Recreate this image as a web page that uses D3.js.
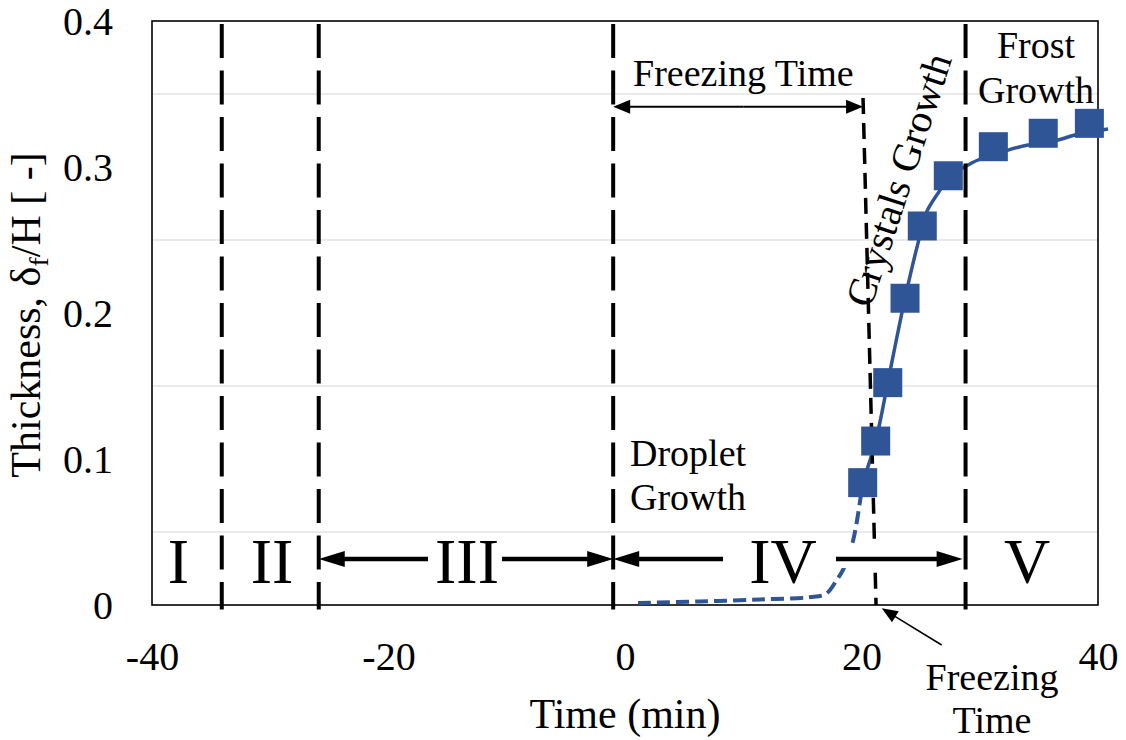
<!DOCTYPE html>
<html>
<head>
<meta charset="utf-8">
<script src="https://cdn.jsdelivr.net/npm/d3@7"></script>
<style>
  body { margin: 0; background: #fff; }
  text { font-family: "Liberation Serif", "Times New Roman", serif; fill: #000; }
</style>
</head>
<body>
<svg id="chart" width="1126" height="740"></svg>
<script>
// axis ticks
const xTicks = [-40, -20, 0, 20, 40];
const yTicks = [0, 0.1, 0.2, 0.3, 0.4];
const gridY = [0.05, 0.15, 0.25, 0.35];

// measured thickness (squares)
const measT = [20.1, 21.2, 22.22, 23.68, 25.14, 27.34, 31.15, 35.37, 39.27];
const measY = [0.0838, 0.1123, 0.1523, 0.2101, 0.2596, 0.294, 0.3139, 0.3231, 0.3299];

// fitted curve after freezing (solid)
const fitT = [20.1, 21.2, 22.22, 22.83, 23.68, 24.78, 25.51, 26.64, 27.34, 28.5, 29.85, 32.39, 34.08, 36.62, 38.05, 40.85];
const fitY = [0.0838, 0.1123, 0.1523, 0.1769, 0.2101, 0.2479, 0.2692, 0.2842, 0.2938, 0.2991, 0.3048, 0.3116, 0.3151, 0.3185, 0.3219, 0.326];

// droplet growth trend (dashed)
const dropT = [1.1, 6.3, 11.4, 15.6, 17.0, 17.9, 18.5, 19.3, 20.1];
const dropY = [0.0014, 0.0024, 0.0038, 0.0053, 0.0077, 0.0171, 0.0251, 0.0445, 0.0838];

// stage boundaries and labels
const phaseBounds = [-34.1, -25.9, -1.0, 28.8];
const phaseLabels = ["I", "II", "III", "IV", "V"];
const phaseLabelT = [-37.76, -29.85, -13.36, 13.36, 34.0];

// freezing-time marker line (top t, bottom t, top y)
const freezeLine = [20.13, 21.23, 0.3473];

const svg = d3.select("#chart");
const x = d3.scaleLinear().domain([-40, 40]).range([152, 1098]);
const y = d3.scaleLinear().domain([0, 0.4]).range([605, 21]);
const blue = "#2F5597";

// gridlines
svg.append("g").selectAll("line")
    .data(gridY)
    .join("line")
    .attr("x1", x(-40)).attr("x2", x(40))
    .attr("y1", d => y(d)).attr("y2", d => y(d))
    .attr("stroke", "#e3e3e3")
    .attr("stroke-width", 1.5);

// axes
const xAxis = svg.append("g")
    .attr("transform", `translate(0,${y(0)})`)
    .call(d3.axisBottom(x).tickValues(xTicks).tickSize(0).tickPadding(37).tickFormat(d => String(d)));
xAxis.select(".domain").remove();
xAxis.selectAll("text").style("font-size", "40px").style("font-family", "'Liberation Serif', serif");

const yAxis = svg.append("g")
    .attr("transform", `translate(${x(-40)},0)`)
    .call(d3.axisLeft(y).tickValues(yTicks).tickSize(0).tickPadding(39)
        .tickFormat(d => d === 0 ? "0" : d3.format(".1f")(d)));
yAxis.select(".domain").remove();
yAxis.selectAll("text").style("font-size", "40px").style("font-family", "'Liberation Serif', serif")
    .attr("dy", "0.34em");

// plot border
svg.append("rect")
    .attr("x", x(-40)).attr("y", y(0.4))
    .attr("width", x(40) - x(-40)).attr("height", y(0) - y(0.4))
    .attr("fill", "none")
    .attr("stroke", "#000")
    .attr("stroke-width", 1.6);

const line = d3.line()
    .x(d => x(d[0]))
    .y(d => y(d[1]))
    .curve(d3.curveCatmullRom.alpha(0.5));

// dashed droplet trend
svg.append("path")
    .datum(dropT.map((t, i) => [t, dropY[i]]))
    .attr("d", line)
    .attr("fill", "none")
    .attr("stroke", blue)
    .attr("stroke-width", 4)
    .attr("stroke-dasharray", "13,6");

// solid fit
svg.append("path")
    .datum(fitT.map((t, i) => [t, fitY[i]]))
    .attr("d", line)
    .attr("fill", "none")
    .attr("stroke", blue)
    .attr("stroke-width", 3.5);

// freezing time marker line
svg.append("line")
    .attr("x1", x(freezeLine[0])).attr("y1", y(freezeLine[2]))
    .attr("x2", x(freezeLine[1])).attr("y2", y(0))
    .attr("stroke", "#000")
    .attr("stroke-width", 3.5)
    .attr("stroke-dasharray", "16,9");

// white box of the IV label (hides curve under the arrow)
svg.append("rect")
    .attr("x", x(17.84)).attr("y", y(0.0418))
    .attr("width", x(27.8) - x(17.84)).attr("height", y(0.0253) - y(0.0418))
    .attr("fill", "#fff");

// squares
svg.append("g").selectAll("rect")
    .data(measT.map((t, i) => [t, measY[i]]))
    .join("rect")
    .attr("x", d => x(d[0]) - 14.5)
    .attr("y", d => y(d[1]) - 14.5)
    .attr("width", 29).attr("height", 29)
    .attr("fill", blue);

// stage boundaries
svg.append("g").selectAll("line")
    .data(phaseBounds)
    .join("line")
    .attr("x1", d => x(d)).attr("x2", d => x(d))
    .attr("y1", y(0.398)).attr("y2", y(-0.003))
    .attr("stroke", "#000")
    .attr("stroke-width", 4)
    .attr("stroke-dasharray", "34,12.5");

// arrows
function arrow(t1, v1, t2, v2, w, len, half) {
    const x1 = x(t1), y1 = y(v1), x2 = x(t2), y2 = y(v2);
    const a = Math.atan2(y2 - y1, x2 - x1);
    const bx = x2 - len * Math.cos(a), by = y2 - len * Math.sin(a);
    svg.append("line")
        .attr("x1", x1).attr("y1", y1)
        .attr("x2", bx + 2 * Math.cos(a)).attr("y2", by + 2 * Math.sin(a))
        .attr("stroke", "#000").attr("stroke-width", w);
    const px = -Math.sin(a) * half, py = Math.cos(a) * half;
    svg.append("path")
        .attr("d", `M${x2},${y2}L${bx + px},${by + py}L${bx - px},${by - py}Z`)
        .attr("fill", "#000");
}

const arrowY = 0.0315;
arrow(-16.66, arrowY, phaseBounds[1], arrowY, 4.5, 26, 8);
arrow(-10.4, arrowY, phaseBounds[2], arrowY, 4.5, 26, 8);
arrow(8.29, arrowY, phaseBounds[2], arrowY, 4.5, 26, 8);
arrow(17.84, arrowY, 28.55, arrowY, 4.5, 26, 8);

// freezing time double arrow (top)
const topY = 0.3413;
arrow(10, topY, phaseBounds[2], topY, 2, 17, 7);
arrow(10, topY, freezeLine[0], topY, 2, 17, 7);

// pointer to freezing time on axis
arrow(26.78, -0.0274, 21.71, -0.0023, 1.5, 16, 6.5);

// stage labels
svg.append("g").selectAll("text")
    .data(phaseLabels)
    .join("text")
    .attr("x", (d, i) => x(phaseLabelT[i]))
    .attr("y", 583)
    .attr("text-anchor", "middle")
    .style("font-size", "64px")
    .text(d => d);

// annotations
const ann = svg.append("g").style("font-size", "38px");
ann.append("text").attr("x", 633).attr("y", 86).text("Freezing Time");
ann.append("text").attr("x", 1036).attr("y", 58).attr("text-anchor", "middle").text("Frost");
ann.append("text").attr("x", 1036).attr("y", 103).attr("text-anchor", "middle").text("Growth");
ann.append("text").attr("x", 630).attr("y", 466).text("Droplet");
ann.append("text").attr("x", 630).attr("y", 510).text("Growth");
ann.append("text").attr("x", 992).attr("y", 690).attr("text-anchor", "middle").text("Freezing");
ann.append("text").attr("x", 992).attr("y", 733).attr("text-anchor", "middle").text("Time");
ann.append("text")
    .attr("transform", "translate(899,180) rotate(-72)")
    .attr("text-anchor", "middle")
    .attr("dy", "0.33em")
    .style("font-size", "40px")
    .text("Crystals Growth");

// axis titles
svg.append("text")
    .attr("x", x(0)).attr("y", 728)
    .attr("text-anchor", "middle")
    .style("font-size", "42px")
    .text("Time (min)");

const yt = svg.append("text")
    .attr("transform", "translate(40,315) rotate(-90)")
    .attr("text-anchor", "middle")
    .style("font-size", "42px");
yt.append("tspan").text("Thickness, δ");
yt.append("tspan").attr("dy", 8).style("font-size", "28px").text("f");
yt.append("tspan").attr("dy", -8).text("/H [ -]");
</script>
</body>
</html>
